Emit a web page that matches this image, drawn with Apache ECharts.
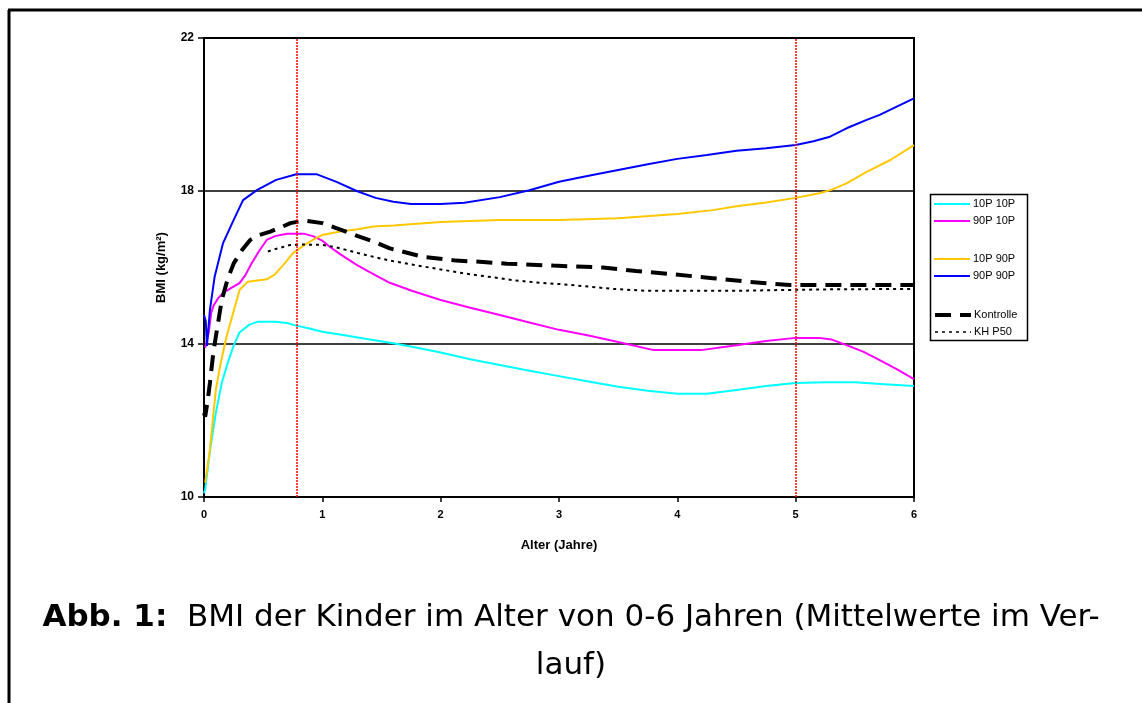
<!DOCTYPE html>
<html>
<head>
<meta charset="utf-8">
<title>BMI der Kinder</title>
<style>
    html, body {margin: 0; padding: 0; background: #fff;}
    #main {width: 1142px; height: 703px;}
</style>
</head>
<body>
<div id="main"></div>
<script src="https://cdn.jsdelivr.net/npm/echarts@6/dist/echarts.min.js"></script>
<script type="text/javascript">
    // Werte (Alter in Jahren, BMI in kg/m2)
    var age1010 = [0, 0.01, 0.05, 0.1, 0.15, 0.2, 0.25, 0.3, 0.38, 0.45, 0.6, 0.7, 0.78, 0.9, 1.0, 1.2, 1.4, 1.6, 1.8, 2.0, 2.25, 2.5, 2.75, 3.0, 3.25, 3.5, 3.75, 4.0, 4.25, 4.5, 4.75, 5.0, 5.25, 5.5, 5.75, 6.0];
    var bmi1010 = [10.1, 10.2, 11.2, 12.2, 12.98, 13.5, 13.95, 14.3, 14.5, 14.58, 14.58, 14.55, 14.48, 14.4, 14.32, 14.22, 14.12, 14.02, 13.9, 13.78, 13.6, 13.45, 13.3, 13.16, 13.02, 12.88, 12.78, 12.7, 12.7, 12.8, 12.9, 12.98, 13.0, 13.0, 12.95, 12.9];

    var age9010 = [0.01, 0.04, 0.06, 0.08, 0.12, 0.16, 0.22, 0.3, 0.35, 0.4, 0.47, 0.53, 0.6, 0.7, 0.85, 0.92, 1.0, 1.06, 1.15, 1.29, 1.4, 1.57, 1.75, 2.0, 2.25, 2.5, 2.75, 3.0, 3.25, 3.5, 3.8, 4.0, 4.2, 4.5, 4.75, 5.0, 5.2, 5.3, 5.43, 5.57, 5.71, 5.85, 6.0];
    var bmi9010 = [13.9, 14.3, 14.8, 15.0, 15.2, 15.33, 15.45, 15.59, 15.8, 16.1, 16.45, 16.72, 16.82, 16.88, 16.88, 16.82, 16.7, 16.55, 16.35, 16.07, 15.88, 15.6, 15.4, 15.15, 14.95, 14.76, 14.56, 14.37, 14.22, 14.05, 13.84, 13.84, 13.84, 13.97, 14.08, 14.16, 14.16, 14.12, 13.97, 13.8, 13.58, 13.35, 13.08];

    var age1090 = [0.01, 0.03, 0.05, 0.08, 0.1, 0.135, 0.19, 0.25, 0.3, 0.37, 0.45, 0.53, 0.6, 0.68, 0.75, 0.83, 0.92, 1.0, 1.15, 1.3, 1.43, 1.6, 2.0, 2.5, 3.0, 3.5, 4.0, 4.3, 4.5, 4.75, 5.0, 5.2, 5.3, 5.43, 5.6, 5.8, 6.0];
    var bmi1090 = [10.37, 10.8, 11.23, 12.2, 12.8, 13.41, 14.19, 14.85, 15.41, 15.63, 15.66, 15.69, 15.82, 16.1, 16.37, 16.55, 16.72, 16.85, 16.94, 17.0, 17.07, 17.1, 17.19, 17.24, 17.24, 17.29, 17.4, 17.5, 17.6, 17.7, 17.82, 17.94, 18.03, 18.2, 18.5, 18.81, 19.2];

    var age9090 = [0, 0.015, 0.025, 0.05, 0.09, 0.16, 0.25, 0.33, 0.45, 0.61, 0.78, 0.95, 1.12, 1.29, 1.45, 1.6, 1.75, 2.0, 2.2, 2.5, 2.75, 3.0, 3.25, 3.5, 3.75, 4.0, 4.25, 4.5, 4.75, 5.0, 5.15, 5.29, 5.43, 5.6, 5.71, 5.85, 6.0];
    var bmi9090 = [14.76, 14.6, 13.95, 14.89, 15.76, 16.63, 17.24, 17.76, 18.03, 18.29, 18.44, 18.44, 18.24, 18.0, 17.82, 17.72, 17.66, 17.66, 17.69, 17.84, 18.02, 18.24, 18.4, 18.55, 18.7, 18.84, 18.94, 19.05, 19.12, 19.2, 19.3, 19.42, 19.64, 19.86, 19.99, 20.2, 20.42];

    var ageKontrolle = [0.0, 0.01, 0.03, 0.05, 0.08, 0.1, 0.15, 0.2, 0.25, 0.32, 0.39, 0.47, 0.56, 0.65, 0.73, 0.8, 0.87, 1.0, 1.1, 1.2, 1.3, 1.43, 1.57, 1.85, 2.13, 2.33, 2.56, 2.95, 3.37, 3.65, 3.94, 4.3, 4.59, 4.75, 4.95, 5.2, 5.5, 6.0];
    var bmiKontrolle = [12.2, 12.1, 12.5, 12.98, 13.8, 14.19, 15.15, 15.7, 16.1, 16.45, 16.72, 16.85, 16.94, 17.05, 17.16, 17.2, 17.22, 17.16, 17.05, 16.94, 16.82, 16.68, 16.5, 16.28, 16.18, 16.15, 16.1, 16.05, 16.0, 15.91, 15.83, 15.72, 15.63, 15.59, 15.54, 15.54, 15.54, 15.54];

    var ageKH = [0.54, 0.6, 0.73, 0.85, 1.0, 1.1, 1.2, 1.3, 1.43, 1.57, 1.77, 2.0, 2.19, 2.4, 2.61, 2.8, 3.04, 3.25, 3.46, 3.74, 4.0, 4.5, 4.87, 5.3, 6.0];
    var bmiKH = [16.42, 16.48, 16.59, 16.6, 16.59, 16.54, 16.46, 16.38, 16.28, 16.18, 16.07, 15.95, 15.85, 15.76, 15.67, 15.61, 15.56, 15.5, 15.44, 15.39, 15.39, 15.39, 15.41, 15.43, 15.44];

    // senkrechte Markierungen (Jahre)
    var markAges = [0.78, 5];
    var xTicks = [0, 1, 2, 3, 4, 5, 6];
    var yTicks = [10, 14, 18, 22];

    function pairs(xs, ys) {
        var out = [];
        for (var i = 0; i < xs.length; i++) {
            out.push([xs[i], ys[i]]);
        }
        return out;
    }

    var myChart = echarts.init(document.getElementById('main'));
    var font = '"Liberation Sans", Arial, sans-serif';
    var capFont = '"DejaVu Sans", Verdana, sans-serif';

    var legendBase = {
        orient: 'vertical',
        left: 933,
        padding: 0,
        itemWidth: 36,
        itemHeight: 12,
        itemGap: 5,
        selectedMode: false,
        itemStyle: {opacity: 0},
        textStyle: {fontFamily: font, fontSize: 11, color: '#000', lineHeight: 12, padding: [0, 0, 0, -2]}
    };

    var option = {
        animation: false,
        backgroundColor: '#fff',
        grid: {
            left: 204,
            right: 228,
            top: 38,
            bottom: 206,
            show: true,
            borderColor: '#000',
            borderWidth: 2,
            backgroundColor: 'transparent'
        },
        legend: [
            Object.assign({}, legendBase, {top: 198, data: [
                {name: '10P 10P', lineStyle: {width: 2}},
                {name: '90P 10P', lineStyle: {width: 2}}
            ]}),
            Object.assign({}, legendBase, {top: 253, data: [
                {name: '10P 90P', lineStyle: {width: 2}},
                {name: '90P 90P', lineStyle: {width: 2}}
            ]}),
            Object.assign({}, legendBase, {top: 309, data: [
                {name: 'Kontrolle', lineStyle: {width: 4}},
                {name: 'KH P50', lineStyle: {width: 1.5}}
            ]})
        ],
        xAxis: {
            type: 'value',
            min: xTicks[0],
            max: xTicks[xTicks.length - 1],
            interval: 1,
            name: 'Alter (Jahre)',
            nameLocation: 'middle',
            nameGap: 42,
            nameTextStyle: {fontFamily: font, fontSize: 13, fontWeight: 'bold', color: '#000'},
            axisLine: {lineStyle: {color: '#000', width: 2}},
            axisTick: {show: true, length: 5, lineStyle: {color: '#000', width: 1.5}},
            axisLabel: {fontFamily: font, fontSize: 11, fontWeight: 'bold', color: '#000', margin: 12},
            splitLine: {show: false}
        },
        yAxis: {
            type: 'value',
            min: yTicks[0],
            max: yTicks[yTicks.length - 1],
            interval: 4,
            name: 'BMI (kg/m²)',
            nameLocation: 'middle',
            nameGap: 36,
            nameTextStyle: {fontFamily: font, fontSize: 13, fontWeight: 'bold', color: '#000'},
            axisLine: {lineStyle: {color: '#000', width: 2}},
            axisTick: {show: true, length: 6, lineStyle: {color: '#000', width: 1.5}},
            axisLabel: {fontFamily: font, fontSize: 12, fontWeight: 'bold', color: '#000', margin: 10},
            splitLine: {show: true, lineStyle: {color: '#000', width: 1.5}}
        },
        series: [
            {
                name: '10P 10P', type: 'line', symbol: 'none', z: 3,
                lineStyle: {color: '#00ffff', width: 2}, itemStyle: {color: '#00ffff'},
                data: pairs(age1010, bmi1010)
            },
            {
                name: '90P 10P', type: 'line', symbol: 'none', z: 3,
                lineStyle: {color: '#ff00ff', width: 2}, itemStyle: {color: '#ff00ff'},
                data: pairs(age9010, bmi9010)
            },
            {
                name: '10P 90P', type: 'line', symbol: 'none', z: 3,
                lineStyle: {color: '#ffc800', width: 2}, itemStyle: {color: '#ffc800'},
                data: pairs(age1090, bmi1090)
            },
            {
                name: '90P 90P', type: 'line', symbol: 'none', z: 3,
                lineStyle: {color: '#0000ff', width: 2}, itemStyle: {color: '#0000ff'},
                data: pairs(age9090, bmi9090)
            },
            {
                name: 'Kontrolle', type: 'line', symbol: 'none', z: 4,
                lineStyle: {color: '#000', width: 4, type: [16, 9]}, itemStyle: {color: '#000'},
                data: pairs(ageKontrolle, bmiKontrolle),
                markLine: {
                    silent: true,
                    symbol: 'none',
                    label: {show: false},
                    lineStyle: {color: '#ff0000', width: 1.5, type: [2, 1]},
                    data: markAges.map(function (a) { return {xAxis: a}; })
                }
            },
            {
                name: 'KH P50', type: 'line', symbol: 'none', z: 4,
                lineStyle: {color: '#000', width: 2, type: [3, 4]}, itemStyle: {color: '#000'},
                data: pairs(ageKH, bmiKH)
            }
        ],
        graphic: [
            // Rahmen links und oben
            {type: 'line', shape: {x1: 9, y1: 10, x2: 9, y2: 703}, style: {stroke: '#000', lineWidth: 3}},
            {type: 'line', shape: {x1: 8, y1: 10, x2: 1142, y2: 10}, style: {stroke: '#000', lineWidth: 3}},
            // Legendenrahmen
            {type: 'rect', shape: {x: 930.5, y: 194.5, width: 97, height: 146}, style: {fill: 'none', stroke: '#000', lineWidth: 1.5}},
            // Bildunterschrift
            {
                type: 'text', x: 571, y: 618,
                style: {
                    text: '{b|Abb. 1:}  BMI der Kinder im Alter von 0-6 Jahren (Mittelwerte im Ver-',
                    fontFamily: capFont, fontSize: 31, fill: '#000',
                    align: 'center', verticalAlign: 'middle',
                    rich: {b: {fontWeight: 'bold', fontFamily: capFont, fontSize: 31}}
                }
            },
            {
                type: 'text', x: 571, y: 666,
                style: {text: 'lauf)', fontFamily: capFont, fontSize: 31, fill: '#000', align: 'center', verticalAlign: 'middle'}
            }
        ]
    };

    myChart.setOption(option);
</script>
</body>
</html>
